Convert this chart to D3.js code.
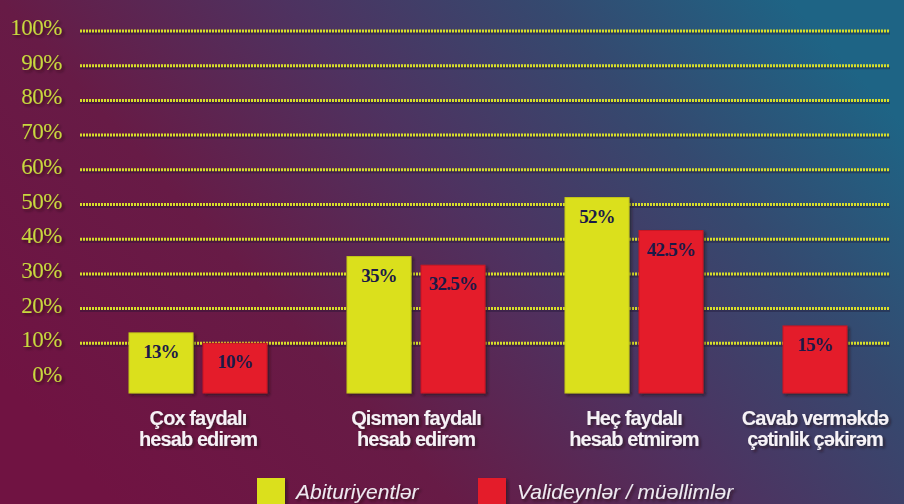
<!DOCTYPE html>
<html>
<head>
<meta charset="utf-8">
<script src="https://cdn.jsdelivr.net/npm/d3@7"></script>
<style>
  html, body { margin: 0; padding: 0; background: #5a2550; }
  svg { display: block; }
</style>
</head>
<body>
<div id="chart"></div>
<script>
const categories = [
  ["Çox faydalı", "hesab edirəm"],
  ["Qismən faydalı", "hesab edirəm"],
  ["Heç faydalı", "hesab etmirəm"],
  ["Cavab verməkdə", "çətinlik çəkirəm"]
]
const series = ["Abituriyentlər", "Valideynlər / müəllimlər"]
const abituriyentler = [13, 35, 52, null]
const valideynler = [10, 32.5, 42.5, 15]
const yTicks = [0, 10, 20, 30, 40, 50, 60, 70, 80, 90, 100]

const COLORS = { bar0: "#dbe01c", bar1: "#e41c2c", grid: "#d7de2a", tick: "#c8d83e", value: "#1b1a48" }

const width = 904
const height = 504
const baseY = 393
const barW = 64, innerGap = 10, groupGap = 80

const svg = d3.select("#chart").append("svg")
  .attr("width", width)
  .attr("height", height)

const defs = svg.append("defs")
const grad = defs.append("linearGradient")
  .attr("id", "bg")
  .attr("x1", "0").attr("y1", "0.75")
  .attr("x2", "1").attr("y2", "0.25")
grad.append("stop").attr("offset", "0").attr("stop-color", "#701342")
grad.append("stop").attr("offset", "0.3").attr("stop-color", "#671b46")
grad.append("stop").attr("offset", "0.55").attr("stop-color", "#4e3260")
grad.append("stop").attr("offset", "0.78").attr("stop-color", "#35496f")
grad.append("stop").attr("offset", "1").attr("stop-color", "#1e6485")

const shadow = defs.append("filter").attr("id", "shadow")
  .attr("x", "-20%").attr("y", "-20%").attr("width", "150%").attr("height", "160%")
shadow.append("feDropShadow")
  .attr("dx", 2).attr("dy", 2).attr("stdDeviation", 1.5)
  .attr("flood-color", "#1a0818").attr("flood-opacity", 0.6)

svg.append("rect")
  .attr("width", width).attr("height", height)
  .attr("fill", "url(#bg)")

// y scale
const y = d3.scaleLinear().domain([0, 100]).range([378, 31])

// gridlines (not at 0)
const grid = svg.append("g")
grid.selectAll("line.sh")
  .data(yTicks.filter(t => t > 0))
  .join("line")
  .attr("x1", 80).attr("x2", 890)
  .attr("y1", d => y(d) + 2).attr("y2", d => y(d) + 2)
  .attr("stroke", "#1a1030").attr("stroke-opacity", 0.35)
  .attr("stroke-width", 3)
grid.selectAll("line.g")
  .data(yTicks.filter(t => t > 0))
  .join("line")
  .attr("x1", 80).attr("x2", 890)
  .attr("y1", d => y(d)).attr("y2", d => y(d))
  .attr("stroke", COLORS.grid)
  .attr("stroke-width", 3)
  .attr("stroke-dasharray", "2,1")

// y tick labels
svg.append("g")
  .selectAll("text")
  .data(yTicks)
  .join("text")
  .attr("x", 62)
  .attr("y", d => y(d) - 4)
  .attr("dy", "0.35em")
  .attr("text-anchor", "end")
  .attr("font-family", "'Liberation Serif', 'DejaVu Serif', serif")
  .attr("font-size", 23)
  .attr("letter-spacing", -0.5)
  .attr("fill", COLORS.tick)
  .attr("filter", "url(#shadow)")
  .text(d => d + "%")

// x layout: bars laid out sequentially, groups separated by a larger gap
const bars = []
const groupSpan = []
let unit = 0
categories.forEach((c, i) => {
  const vals = [abituriyentler[i], valideynler[i]]
  const start = unit
  let n = 0
  vals.forEach((v, s) => {
    if (v == null) return
    if (n > 0) unit += innerGap
    bars.push({ cat: i, s, v, u: unit })
    unit += barW
    n++
  })
  groupSpan.push([start, unit])
  unit += groupGap
})
unit -= groupGap
const x = d3.scaleLinear().domain([0, unit]).range([129, 129 + unit])

// bars
const barG = svg.append("g")
barG.selectAll("rect")
  .data(bars)
  .join("rect")
  .attr("x", d => x(d.u))
  .attr("y", d => y(d.v))
  .attr("width", barW)
  .attr("height", d => baseY - y(d.v))
  .attr("fill", d => d.s === 0 ? COLORS.bar0 : COLORS.bar1)
  .attr("stroke", d => d.s === 0 ? "#c4c818" : "#c81624")
  .attr("stroke-width", 1)
  .attr("filter", "url(#shadow)")

barG.selectAll("text")
  .data(bars)
  .join("text")
  .attr("x", d => x(d.u) + barW / 2)
  .attr("y", d => y(d.v) + 25)
  .attr("text-anchor", "middle")
  .attr("font-family", "'Liberation Serif', 'DejaVu Serif', serif")
  .attr("font-weight", "bold")
  .attr("font-size", 19)
  .attr("letter-spacing", -0.8)
  .attr("fill", COLORS.value)
  .text(d => d.v + "%")

// axes
svg.append("line")
  .attr("x1", 70).attr("x2", 70)
  .attr("y1", 9).attr("y2", baseY)
  .attr("stroke", "#f4f0f4").attr("stroke-width", 3)
  .attr("filter", "url(#shadow)")
svg.append("line")
  .attr("x1", 15).attr("x2", width)
  .attr("y1", baseY).attr("y2", baseY)
  .attr("stroke", "#f4f0f4").attr("stroke-width", 3)
  .attr("filter", "url(#shadow)")

// category labels
const catG = svg.append("g")
categories.forEach((lines, i) => {
  const cx = x((groupSpan[i][0] + groupSpan[i][1]) / 2)
  const t = catG.append("text")
    .attr("text-anchor", "middle")
    .attr("font-family", "'Liberation Sans', Arial, sans-serif")
    .attr("font-weight", "bold")
    .attr("font-size", 20)
    .attr("letter-spacing", -0.9)
    .attr("fill", "#f6f2f6")
    .attr("filter", "url(#shadow)")
  lines.forEach((l, k) => {
    t.append("tspan").attr("x", cx).attr("y", 425 + k * 21).text(l)
  })
})

// legend
const legendX = [257, 478]
const leg = svg.append("g")
series.forEach((s, i) => {
  leg.append("rect")
    .attr("x", legendX[i]).attr("y", 478)
    .attr("width", 28).attr("height", 30)
    .attr("fill", i === 0 ? COLORS.bar0 : COLORS.bar1)
    .attr("filter", "url(#shadow)")
  leg.append("text")
    .attr("x", legendX[i] + 39).attr("y", 499)
    .attr("font-family", "'Liberation Sans', Arial, sans-serif")
    .attr("font-style", "italic")
    .attr("font-size", 21)
    .attr("fill", "#eeeaf0")
    .attr("filter", "url(#shadow)")
    .text(s)
})
</script>
</body>
</html>
